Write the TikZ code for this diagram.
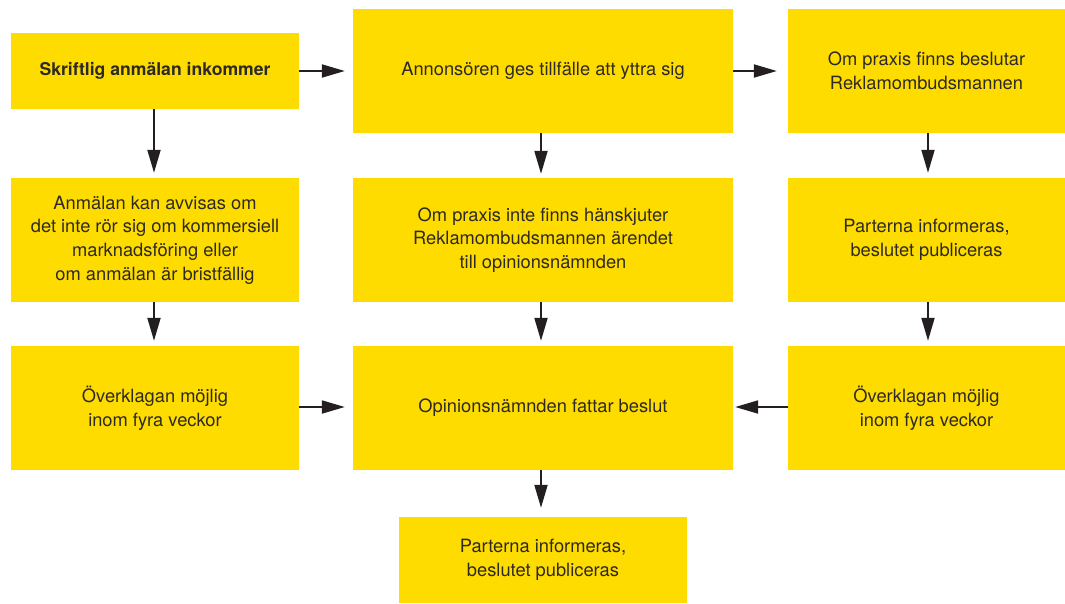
\documentclass[tikz,border=0pt]{standalone}
\usepackage{fontspec}
\setmainfont{TeX Gyre Heros}
\usetikzlibrary{arrows.meta}
\definecolor{boxyellow}{RGB}{255,220,0}
\definecolor{txt}{RGB}{45,42,38}
\definecolor{arr}{RGB}{35,31,32}
\begin{document}
\begin{tikzpicture}[x=1pt,y=-1pt,
  box/.style={fill=boxyellow,draw=none,inner sep=0pt,align=center,text=txt,
    font=\fontsize{18.3}{23.6}\selectfont},
  wbox/.style={box,minimum width=288pt,minimum height=124pt},
  mbox/.style={box,minimum width=380pt,minimum height=124pt},
  rbox/.style={box,minimum width=277pt,minimum height=124pt},
  arrow/.style={draw=arr,line width=2pt,-{Triangle[length=23pt,width=13pt]}}]
\useasboundingbox (0,0) rectangle (1065,603);
\node[box,minimum width=288pt,minimum height=76pt,font=\fontsize{17.6}{23.6}\selectfont\bfseries] (A) at (155,71) {Skriftlig anmälan inkommer};
\node[mbox] (B) at (543,71) {Annonsören ges tillfälle att yttra sig};
\node[rbox] (C) at (926.5,71) {Om praxis finns beslutar\\Reklamombudsmannen};
\node[wbox] (D) at (155,240) {Anmälan kan avvisas om\\det inte rör sig om kommersiell\\marknadsföring eller\\om anmälan är bristfällig};
\node[mbox] (E) at (543,240) {Om praxis inte finns hänskjuter\\Reklamombudsmannen ärendet\\till opinionsnämnden};
\node[rbox] (F) at (926.5,240) {Parterna informeras,\\beslutet publiceras};
\node[wbox] (G) at (155,408) {Överklagan möjlig\\inom fyra veckor};
\node[mbox] (H) at (543,408) {Opinionsnämnden fattar beslut};
\node[rbox] (I) at (926.5,408) {Överklagan möjlig\\inom fyra veckor};
\node[box,minimum width=288pt,minimum height=86pt] (J) at (543,560) {Parterna informeras,\\beslutet publiceras};
\draw[arrow,shorten >=8pt] (A.east) -- (B.west |- A.east);
\draw[arrow,shorten >=11pt] (B.east) -- (C.west);
\draw[arrow,shorten >=5pt] ([xshift=-1pt]A.south) -- ([xshift=-1pt]D.north);
\draw[arrow,shorten >=4pt] ([xshift=-2pt]B.south) -- ([xshift=-2pt]E.north);
\draw[arrow,shorten >=5pt] ([xshift=1.5pt]C.south) -- ([xshift=1.5pt]F.north);
\draw[arrow,shorten >=5pt] ([xshift=-1pt]D.south) -- ([xshift=-1pt]G.north);
\draw[arrow,shorten >=5pt] ([xshift=-2pt]E.south) -- ([xshift=-2pt]H.north);
\draw[arrow,shorten >=5pt] ([xshift=1.5pt]F.south) -- ([xshift=1.5pt]I.north);
\draw[arrow,shorten >=8pt] ([yshift=1pt]G.east) -- ([yshift=1pt]H.west);
\draw[arrow,shorten >=2pt] ([yshift=1pt]I.west) -- ([yshift=1pt]H.east);
\draw[arrow,shorten >=9pt] ([xshift=-2pt]H.south) -- ([xshift=-2pt]J.north);
\end{tikzpicture}
\end{document}
